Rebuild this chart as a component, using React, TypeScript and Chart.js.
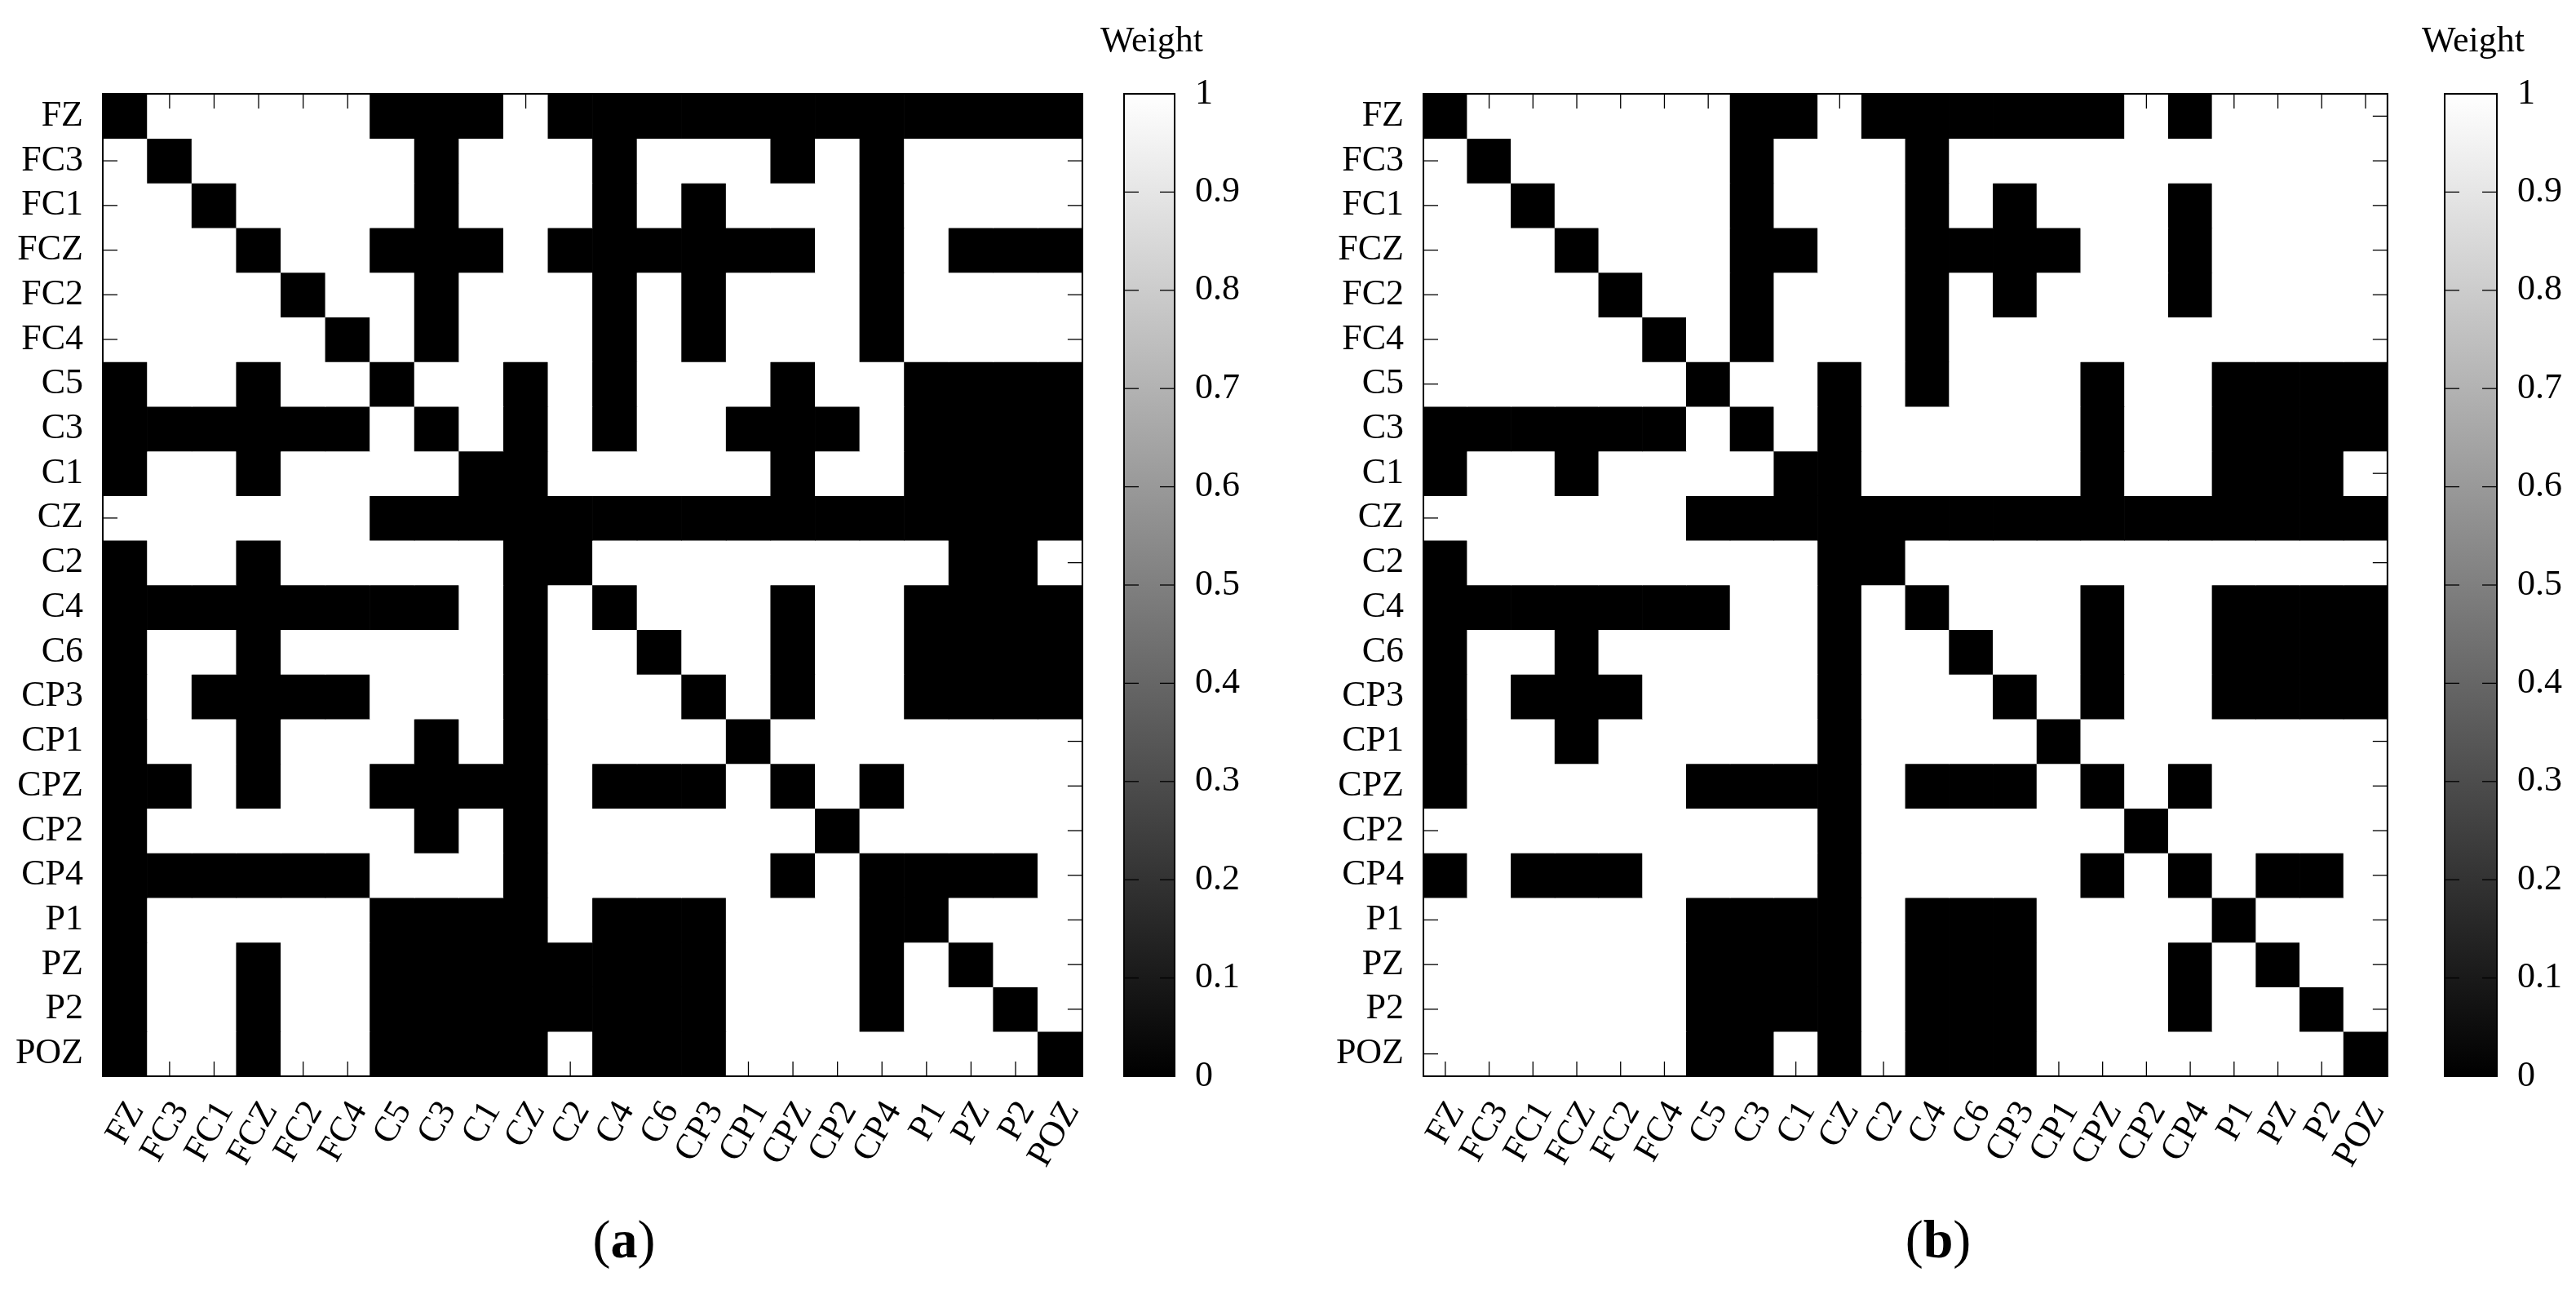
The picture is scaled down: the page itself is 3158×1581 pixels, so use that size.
import React, { useEffect, useRef } from 'react';
import { Chart, registerables } from 'chart.js';

Chart.register(...registerables);

const channels = ['FZ', 'FC3', 'FC1', 'FCZ', 'FC2', 'FC4', 'C5', 'C3', 'C1', 'CZ', 'C2', 'C4', 'C6', 'CP3', 'CP1', 'CPZ', 'CP2', 'CP4', 'P1', 'PZ', 'P2', 'POZ'];

// weight matrices (1 = white, 0 = black), rows follow `channels`
const weightsA: number[][] = [
  [0,1,1,1,1,1,0,0,0,1,0,0,0,0,0,0,0,0,0,0,0,0],
  [1,0,1,1,1,1,1,0,1,1,1,0,1,1,1,0,1,0,1,1,1,1],
  [1,1,0,1,1,1,1,0,1,1,1,0,1,0,1,1,1,0,1,1,1,1],
  [1,1,1,0,1,1,0,0,0,1,0,0,0,0,0,0,1,0,1,0,0,0],
  [1,1,1,1,0,1,1,0,1,1,1,0,1,0,1,1,1,0,1,1,1,1],
  [1,1,1,1,1,0,1,0,1,1,1,0,1,0,1,1,1,0,1,1,1,1],
  [0,1,1,0,1,1,0,1,1,0,1,0,1,1,1,0,1,1,0,0,0,0],
  [0,0,0,0,0,0,1,0,1,0,1,0,1,1,0,0,0,1,0,0,0,0],
  [0,1,1,0,1,1,1,1,0,0,1,1,1,1,1,0,1,1,0,0,0,0],
  [1,1,1,1,1,1,0,0,0,0,0,0,0,0,0,0,0,0,0,0,0,0],
  [0,1,1,0,1,1,1,1,1,0,0,1,1,1,1,1,1,1,1,0,0,1],
  [0,0,0,0,0,0,0,0,1,0,1,0,1,1,1,0,1,1,0,0,0,0],
  [0,1,1,0,1,1,1,1,1,0,1,1,0,1,1,0,1,1,0,0,0,0],
  [0,1,0,0,0,0,1,1,1,0,1,1,1,0,1,0,1,1,0,0,0,0],
  [0,1,1,0,1,1,1,0,1,0,1,1,1,1,0,1,1,1,1,1,1,1],
  [0,0,1,0,1,1,0,0,0,0,1,0,0,0,1,0,1,0,1,1,1,1],
  [0,1,1,1,1,1,1,0,1,0,1,1,1,1,1,1,0,1,1,1,1,1],
  [0,0,0,0,0,0,1,1,1,0,1,1,1,1,1,0,1,0,0,0,0,1],
  [0,1,1,1,1,1,0,0,0,0,1,0,0,0,1,1,1,0,0,1,1,1],
  [0,1,1,0,1,1,0,0,0,0,0,0,0,0,1,1,1,0,1,0,1,1],
  [0,1,1,0,1,1,0,0,0,0,0,0,0,0,1,1,1,0,1,1,0,1],
  [0,1,1,0,1,1,0,0,0,0,1,0,0,0,1,1,1,1,1,1,1,0],
];

const weightsB: number[][] = [
  [0,1,1,1,1,1,1,0,0,1,0,0,0,0,0,0,1,0,1,1,1,1],
  [1,0,1,1,1,1,1,0,1,1,1,0,1,1,1,1,1,1,1,1,1,1],
  [1,1,0,1,1,1,1,0,1,1,1,0,1,0,1,1,1,0,1,1,1,1],
  [1,1,1,0,1,1,1,0,0,1,1,0,0,0,0,1,1,0,1,1,1,1],
  [1,1,1,1,0,1,1,0,1,1,1,0,1,0,1,1,1,0,1,1,1,1],
  [1,1,1,1,1,0,1,0,1,1,1,0,1,1,1,1,1,1,1,1,1,1],
  [1,1,1,1,1,1,0,1,1,0,1,0,1,1,1,0,1,1,0,0,0,0],
  [0,0,0,0,0,0,1,0,1,0,1,1,1,1,1,0,1,1,0,0,0,0],
  [0,1,1,0,1,1,1,1,0,0,1,1,1,1,1,0,1,1,0,0,0,1],
  [1,1,1,1,1,1,0,0,0,0,0,0,0,0,0,0,0,0,0,0,0,0],
  [0,1,1,1,1,1,1,1,1,0,0,1,1,1,1,1,1,1,1,1,1,1],
  [0,0,0,0,0,0,0,1,1,0,1,0,1,1,1,0,1,1,0,0,0,0],
  [0,1,1,0,1,1,1,1,1,0,1,1,0,1,1,0,1,1,0,0,0,0],
  [0,1,0,0,0,1,1,1,1,0,1,1,1,0,1,0,1,1,0,0,0,0],
  [0,1,1,0,1,1,1,1,1,0,1,1,1,1,0,1,1,1,1,1,1,1],
  [0,1,1,1,1,1,0,0,0,0,1,0,0,0,1,0,1,0,1,1,1,1],
  [1,1,1,1,1,1,1,1,1,0,1,1,1,1,1,1,0,1,1,1,1,1],
  [0,1,0,0,0,1,1,1,1,0,1,1,1,1,1,0,1,0,1,0,0,1],
  [1,1,1,1,1,1,0,0,0,0,1,0,0,0,1,1,1,1,0,1,1,1],
  [1,1,1,1,1,1,0,0,0,0,1,0,0,0,1,1,1,0,1,0,1,1],
  [1,1,1,1,1,1,0,0,0,0,1,0,0,0,1,1,1,0,1,1,0,1],
  [1,1,1,1,1,1,0,0,1,0,1,0,0,0,1,1,1,1,1,1,1,0],
];

const colorbarValues = [0, 0.1, 0.2, 0.3, 0.4, 0.5, 0.6, 0.7, 0.8, 0.9, 1];
const colorbarLabels = ['0', '0.1', '0.2', '0.3', '0.4', '0.5', '0.6', '0.7', '0.8', '0.9', '1'];
const colorbarTitle = 'Weight';
const panelLetters = ['a', 'b'];

const FONT_FAMILY = '"Liberation Serif", "Times New Roman", serif';
const FONT_SIZE = 44;

const gray = (w: number) => {
  const v = Math.round(255 * w);
  return `rgb(${v},${v},${v})`;
};

function makeFramePlugin(opts: { xTicks: boolean; yInner: (v: number) => boolean; title?: string }) {
  return {
    id: 'frameTicks',
    afterDatasetsDraw(chart: any) {
      const { ctx, chartArea: a, scales } = chart;
      const L = 18;
      ctx.save();
      ctx.strokeStyle = '#000';
      ctx.lineWidth = 1.3;
      const line = (x1: number, y1: number, x2: number, y2: number) => {
        ctx.beginPath();
        ctx.moveTo(x1, y1);
        ctx.lineTo(x2, y2);
        ctx.stroke();
      };
      if (opts.xTicks) {
        scales.x.ticks.forEach((_: any, i: number) => {
          const px = scales.x.getPixelForTick(i);
          line(px, a.top, px, a.top + L);
          line(px, a.bottom, px, a.bottom - L);
        });
      }
      scales.y.ticks.forEach((t: any, i: number) => {
        if (!opts.yInner(t.value)) return;
        const py = scales.y.getPixelForTick(i);
        line(a.left, py, a.left + L, py);
        line(a.right, py, a.right - L, py);
      });
      ctx.lineWidth = 2;
      ctx.strokeRect(a.left, a.top, a.right - a.left, a.bottom - a.top);
      if (opts.title) {
        ctx.fillStyle = '#000';
        ctx.font = `${FONT_SIZE}px ${FONT_FAMILY}`;
        ctx.textAlign = 'center';
        ctx.textBaseline = 'alphabetic';
        ctx.fillText(opts.title, (a.left + a.right) / 2 + 3, a.top - 52);
      }
      ctx.restore();
    },
  };
}

function matrixConfig(weights: number[][], yWidth: number, padRight: number): any {
  const datasets = channels.map((rowName, r) => ({
    label: rowName,
    data: channels.map(() => [r, r + 1]),
    backgroundColor: weights[r].map(gray),
    borderWidth: 0,
    grouped: false,
    categoryPercentage: 1,
    barPercentage: 1,
  }));
  return {
    type: 'bar',
    data: { labels: channels, datasets },
    options: {
      responsive: false,
      animation: false,
      devicePixelRatio: 1,
      layout: { padding: { top: 55, right: padRight, left: 0, bottom: 0 } },
      plugins: { legend: { display: false }, tooltip: { enabled: false }, title: { display: false } },
      scales: {
        x: {
          type: 'category',
          grid: { display: false },
          border: { display: false },
          ticks: {
            color: '#000',
            font: { family: FONT_FAMILY, size: FONT_SIZE },
            minRotation: 60,
            maxRotation: 60,
            autoSkip: false,
            padding: 14,
            labelOffset: 14,
          },
          afterFit: (s: any) => { s.height = 161; },
        },
        y: {
          type: 'linear',
          min: 0,
          max: channels.length,
          reverse: true,
          grid: { display: false },
          border: { display: false },
          afterBuildTicks: (s: any) => { s.ticks = channels.map((_, i) => ({ value: i + 0.5 })); },
          ticks: {
            color: '#000',
            font: { family: FONT_FAMILY, size: FONT_SIZE },
            padding: 16,
            autoSkip: false,
            callback: (_v: any, i: number) => channels[i],
          },
          afterFit: (s: any) => { s.width = yWidth; },
        },
      },
    },
    plugins: [makeFramePlugin({ xTicks: true, yInner: () => true })],
  };
}

function colorbarConfig(padLeft: number, yWidth: number): any {
  return {
    type: 'bar',
    data: {
      labels: [colorbarTitle],
      datasets: [{
        data: [[0, 1]],
        borderWidth: 0,
        categoryPercentage: 1,
        barPercentage: 1,
        backgroundColor: (c: any) => {
          const chart = c.chart;
          const y = chart.scales && chart.scales.y;
          if (!y || !chart.chartArea) return '#808080';
          const g = chart.ctx.createLinearGradient(0, y.getPixelForValue(0), 0, y.getPixelForValue(1));
          g.addColorStop(0, gray(0));
          g.addColorStop(1, gray(1));
          return g;
        },
      }],
    },
    options: {
      responsive: false,
      animation: false,
      devicePixelRatio: 1,
      layout: { padding: { top: 115, left: padLeft, right: 0, bottom: 81 } },
      plugins: { legend: { display: false }, tooltip: { enabled: false }, title: { display: false } },
      scales: {
        x: { type: 'category', display: false },
        y: {
          type: 'linear',
          position: 'right',
          min: 0,
          max: 1,
          grid: { display: false },
          border: { display: false },
          afterBuildTicks: (s: any) => { s.ticks = colorbarValues.map((v) => ({ value: v })); },
          ticks: {
            color: '#000',
            font: { family: FONT_FAMILY, size: FONT_SIZE },
            padding: 17,
            autoSkip: false,
            callback: (_v: any, i: number) => colorbarLabels[i],
          },
          afterFit: (s: any) => { s.width = yWidth; },
        },
      },
    },
    plugins: [makeFramePlugin({ xTicks: false, yInner: (v) => v > 0.001 && v < 0.999, title: colorbarTitle })],
  };
}

function ChartCanvas({ config, left, top, width, height }: { config: any; left: number; top: number; width: number; height: number }) {
  const ref = useRef<HTMLCanvasElement>(null);
  useEffect(() => {
    const chart = new Chart(ref.current as HTMLCanvasElement, config);
    return () => chart.destroy();
  }, []);
  return (
    <canvas
      ref={ref}
      width={width}
      height={height}
      style={{ position: 'absolute', left, top, width, height, display: 'block' }}
    />
  );
}

function PanelLabel({ letter, cx }: { letter: string; cx: number }) {
  return (
    <div
      style={{
        position: 'absolute',
        left: cx - 100,
        width: 200,
        top: 1484,
        textAlign: 'center',
        fontFamily: FONT_FAMILY,
        fontSize: 66,
        lineHeight: '70px',
        color: '#000',
      }}
    >
      (<span style={{ fontWeight: 'bold' }}>{letter}</span>)
    </div>
  );
}

export default function App() {
  return (
    <div style={{ position: 'absolute', left: 0, top: 0, width: 3158, height: 1581, background: '#fff', overflow: 'hidden' }}>
      <ChartCanvas config={matrixConfig(weightsA, 126, 30)} left={0} top={60} width={1360} height={1420} />
      <ChartCanvas config={colorbarConfig(38, 120)} left={1340} top={0} width={220} height={1400} />
      <ChartCanvas config={matrixConfig(weightsB, 145, 13)} left={1600} top={60} width={1360} height={1420} />
      <ChartCanvas config={colorbarConfig(37, 97)} left={2960} top={0} width={198} height={1400} />
      <PanelLabel letter={panelLetters[0]} cx={765} />
      <PanelLabel letter={panelLetters[1]} cx={2376} />
    </div>
  );
}
